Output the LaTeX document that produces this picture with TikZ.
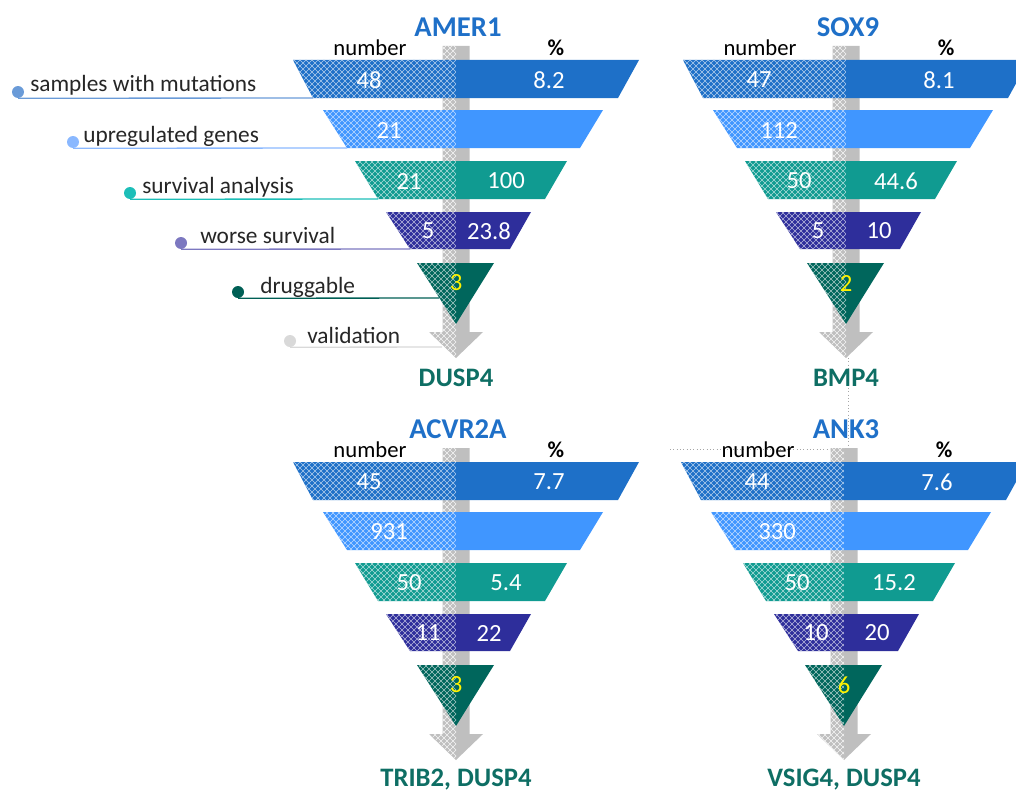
\documentclass[tikz,border=0pt]{standalone}
\usepackage{fontspec}
\setmainfont{Carlito}
\usepackage{tikz}
\usetikzlibrary{patterns,positioning}

\definecolor{rowA}{RGB}{30,112,200}
\definecolor{rowB}{RGB}{64,150,255}
\definecolor{rowC}{RGB}{16,155,145}
\definecolor{rowD}{RGB}{46,46,155}
\definecolor{rowE}{RGB}{0,102,92}
\definecolor{arrowgray}{RGB}{191,191,191}
\definecolor{titleblue}{RGB}{31,112,200}
\definecolor{genegreen}{RGB}{14,110,100}
\definecolor{dotA}{RGB}{106,155,216}
\definecolor{dotB}{RGB}{138,184,255}
\definecolor{dotC}{RGB}{29,190,184}
\definecolor{dotD}{RGB}{124,120,192}
\definecolor{dotE}{RGB}{0,95,85}
\definecolor{dotF}{RGB}{217,217,217}
\definecolor{lbltext}{RGB}{38,38,38}

\pgfdeclarepatternformonly{xcross}{\pgfpoint{-0.5pt}{-0.5pt}}{\pgfpoint{5pt}{5pt}}{\pgfpoint{4.5pt}{4.5pt}}{%
  \pgfsetlinewidth{0.45pt}
  \pgfpathmoveto{\pgfpointorigin}\pgfpathlineto{\pgfpoint{4.5pt}{4.5pt}}
  \pgfpathmoveto{\pgfpoint{0pt}{4.5pt}}\pgfpathlineto{\pgfpoint{4.5pt}{0pt}}
  \pgfusepath{stroke}}

% one band of a funnel: colour, top, bottom, left top, left bottom, right top, right bottom
\newcommand\halves[7]{%
  \fill[#1] (#4,#2) -- (0,#2) -- (0,#3) -- (#5,#3) -- cycle;
  \fill[cross, pattern color=#1!35!white] (#4,#2) -- (0,#2) -- (0,#3) -- (#5,#3) -- cycle;
  \fill[#1] (0,#2) -- (#6,#2) -- (#7,#3) -- (0,#3) -- cycle;}

\tikzset{
  cross/.style={pattern=xcross, pattern color=white},
  gtitle/.style={text=titleblue, font=\fontsize{21.5}{24}\selectfont\bfseries},
  colhead/.style={text=black, font=\fontsize{17}{20}\selectfont},
  num/.style={text=white, font=\fontsize{18.5}{21}\selectfont},
  tnum/.style={text=yellow, font=\fontsize{18.5}{21}\selectfont},
  gname/.style={text=genegreen, font=\fontsize{20}{23}\selectfont\bfseries},
  lbl/.style={text=lbltext, font=\fontsize{17.5}{20}\selectfont, inner sep=0pt},
  bullet/.style={circle, inner sep=0pt, minimum size=9pt},
  link/.style={line width=1pt},
  gridline/.style={draw=black!35, dotted, line width=0.5pt}
}

\begin{document}
\begin{tikzpicture}[x=0.75pt, y=-0.75pt]
\useasboundingbox (0,0) rectangle (1016,792);
\clip (0,0) rectangle (1016,792);

% faint grid remains
\draw[gridline] (670,449) -- (830,449);
\draw[gridline] (848,358) -- (848,446);

\foreach \fid/\cx/\cy/\ttl/\na/\pa/\nb/\nc/\pc/\nd/\pd/\ne/\gene in {
    amer/456/60/AMER1/48/8.2/21/21/100/5/23.8/3/DUSP4,
    sox/846/60/SOX9/47/8.1/112/50/44.6/5/10/2/BMP4,
    acvr/456/462/ACVR2A/45/7.7/931/50/5.4/11/22/3/{TRIB2, DUSP4},
    ank/844/462/ANK3/44/7.6/330/50/15.2/10/20/6/{VSIG4, DUSP4}} {
  \begin{scope}[shift={(\cx,\cy)}]
    % grey arrow behind the bands
    \fill[arrowgray] (-13.5,-14) -- (13.5,-14) -- (13.5,272) -- (27,272) -- (0,298) -- (-27,272) -- (-13.5,272) -- cycle;
    \fill[cross, pattern color=white!85!arrowgray] (-13.5,-14) -- (0,-14) -- (0,298) -- (-27,272) -- (-13.5,272) -- cycle;
    \halves{rowA}{0}{38}{-163}{-143}{183}{162}
    \halves{rowB}{50}{88}{-133}{-109}{147}{124}
    \halves{rowC}{101}{139}{-101}{-78}{111}{89}
    \halves{rowD}{152}{189}{-70}{-46}{75}{54}
    % last band is a triangle
    \fill[rowE] (-39,203) -- (38,203) -- (0,264) -- cycle;
    \fill[cross, pattern color=rowE!35!white] (-39,203) -- (0,203) -- (0,264) -- cycle;
    \node[gtitle] (\fid-t) at (2,-33) {\ttl};
    \node[colhead] (\fid-hn) at (-86,-12) {number};
    \node[colhead, font=\fontsize{17}{20}\selectfont\bfseries] (\fid-hp) at (100,-12) {\%};
    \node[num] (\fid-n1) at (-87,20) {\na};
    \node[num] (\fid-p1) at (93,20) {\pa};
    \node[num] (\fid-n2) at (-67,70) {\nb};
    \node[num] (\fid-n3) at (-47,121) {\nc};
    \node[num] (\fid-p3) at (50,121) {\pc};
    \node[num] (\fid-n4) at (-28,171) {\nd};
    \node[num] (\fid-p4) at (33,171) {\pd};
    \node[tnum] (\fid-n5) at (0,223) {\ne};
    \node[gname] (\fid-g) at (0,318) {\gene};
    \coordinate (\fid-c1) at (-143,38);
    \coordinate (\fid-c2) at (-109,88);
    \coordinate (\fid-c3) at (-78,139);
    \coordinate (\fid-c4) at (-46,189);
    \coordinate (\fid-c5) at (-17,238);
    \coordinate (\fid-c6) at (-14,287);
  \end{scope}
}

% step labels
\node[bullet, fill=dotA] (dmut) at (18,92) {};
\node[bullet, fill=dotB] (dup) at (73,142) {};
\node[bullet, fill=dotC] (dsurv) at (130,193) {};
\node[bullet, fill=dotD] (dworse) at (181,243) {};
\node[bullet, fill=dotE] (ddrug) at (238,292) {};
\node[bullet, fill=dotF] (dval) at (290,341) {};
\node[lbl, anchor=base west] (tmut) at (30,91) {samples with mutations};
\node[lbl, anchor=base west] (tup) at (83,142) {upregulated genes};
\node[lbl, anchor=base west] (tsurv) at (142,193) {survival analysis};
\node[lbl, anchor=base west] (tworse) at (200,243) {worse survival};
\node[lbl, anchor=base west] (tdrug) at (260,293) {druggable};
\node[lbl, anchor=base west] (tval) at (307,343) {validation};
\draw[link, dotA] (dmut.south) -- (amer-c1);
\draw[link, dotB] (dup.south) -- (amer-c2);
\draw[link, dotC] (dsurv.south) -- (amer-c3);
\draw[link, dotD] (dworse.south) -- (amer-c4);
\draw[link, dotE] (ddrug.south) -- (amer-c5);
\draw[link, dotF] (dval.south) -- (amer-c6);
\end{tikzpicture}
\end{document}
